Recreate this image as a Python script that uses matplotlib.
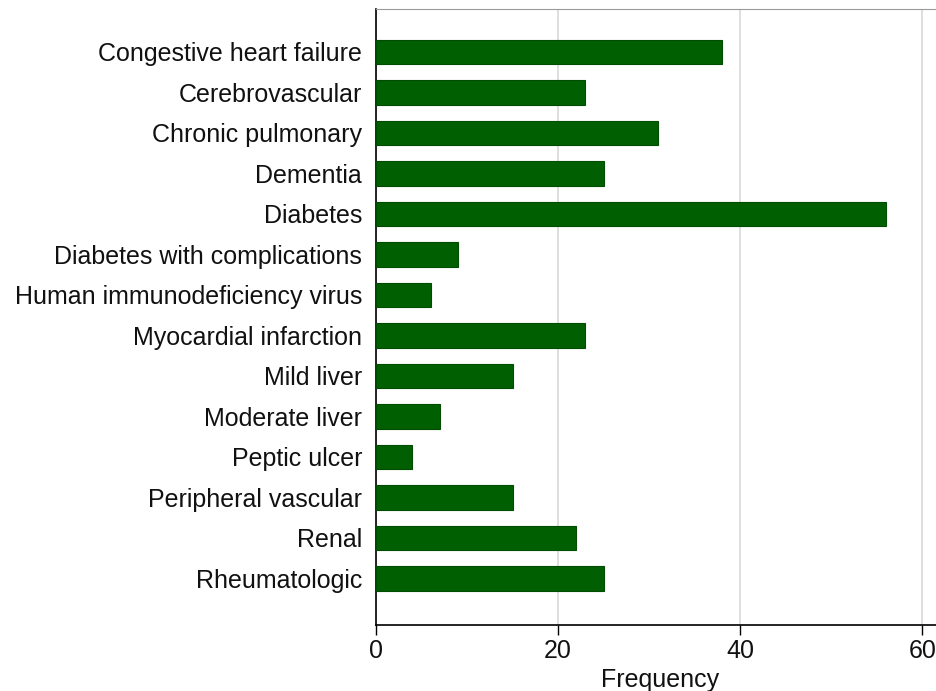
import matplotlib.pyplot as plt
import numpy as np

plt.rcParams['font.family'] = ['Liberation Sans', 'DejaVu Sans']

conditions = ['Congestive heart failure', 'Cerebrovascular', 'Chronic pulmonary',
              'Dementia', 'Diabetes', 'Diabetes with complications',
              'Human immunodeficiency virus', 'Myocardial infarction', 'Mild liver',
              'Moderate liver', 'Peptic ulcer', 'Peripheral vascular', 'Renal',
              'Rheumatologic']
frequency = [38, 23, 31, 25, 56, 9, 6, 23, 15, 7, 4, 15, 22, 25]
x_ticks = [0, 20, 40, 60]

fig = plt.figure(figsize=(9.36, 6.91), dpi=100)
ax = fig.add_axes([0.4017, 0.0955, 0.5983, 0.8915])

pos = np.arange(len(conditions))
ax.barh(pos, frequency, height=0.6, color='#005f00', edgecolor='#004c00', linewidth=0.8, zorder=3)

ax.set_yticks(pos)
ax.set_yticklabels(conditions, fontsize=18, color='#111111')
ax.set_ylim(len(conditions) - 1 + 1.15, -1.06)
ax.tick_params(axis='y', length=0, pad=10)

ax.set_xlim(0, 61.5)
ax.set_xticks(x_ticks)
ax.tick_params(axis='x', labelsize=18, labelcolor='#111111', length=7, width=1, direction='out', pad=3)
ax.set_xlabel('Frequency', fontsize=18, color='#111111', labelpad=2)
ax.xaxis.set_label_coords(0.507, -0.07)

ax.grid(axis='x', color='#d9d9d9', linewidth=1.2, zorder=0)
ax.spines['right'].set_visible(False)
ax.spines['top'].set_color('#9a9a9a')
ax.spines['left'].set_linewidth(1.2)
ax.spines['bottom'].set_linewidth(1.2)

fig.savefig('out.png', dpi=100)
